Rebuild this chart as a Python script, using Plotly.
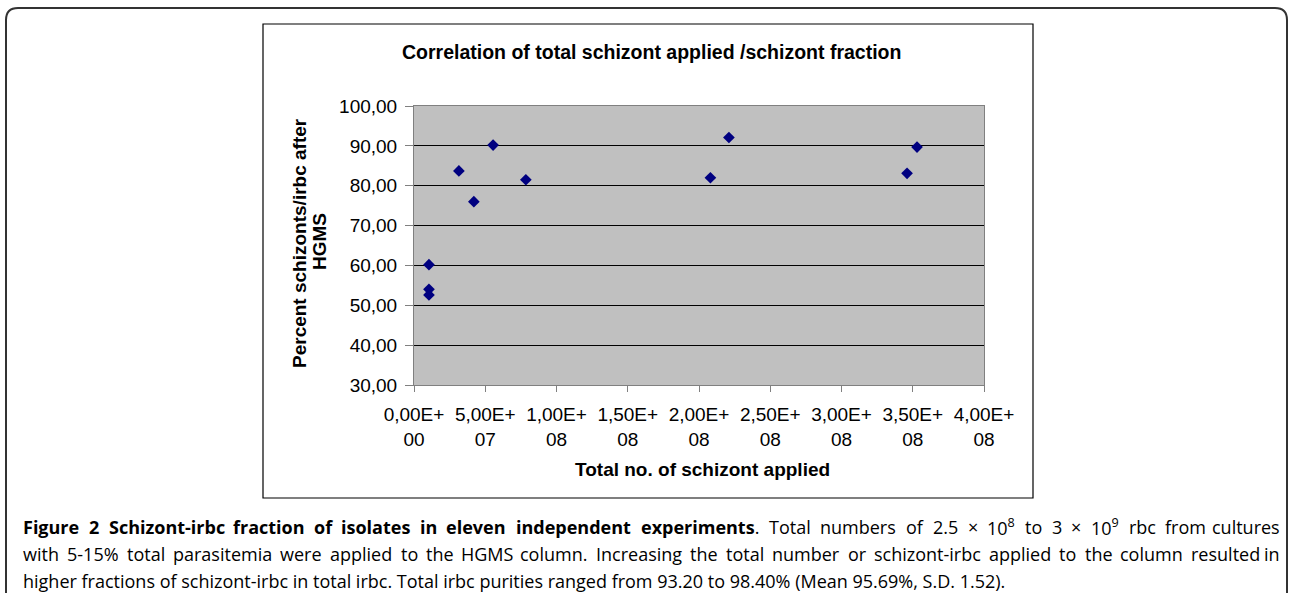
import re
import plotly.graph_objects as go

# Valores
schizont_aplicado = [1.05e7, 1.05e7, 1.05e7, 3.15e7, 4.2e7, 5.55e7, 7.85e7, 2.08e8, 2.21e8, 3.46e8, 3.53e8]
perc_schizont = [60.2, 54.0, 52.6, 83.7, 76.0, 90.2, 81.5, 82.0, 92.1, 83.1, 89.7]

x_ticks = [0, 5e7, 1e8, 1.5e8, 2e8, 2.5e8, 3e8, 3.5e8, 4e8]
x_labels = ["0,00E+<br>00", "5,00E+<br>07", "1,00E+<br>08", "1,50E+<br>08", "2,00E+<br>08",
            "2,50E+<br>08", "3,00E+<br>08", "3,50E+<br>08", "4,00E+<br>08"]
y_ticks = [30, 40, 50, 60, 70, 80, 90, 100]
y_labels = ["30,00", "40,00", "50,00", "60,00", "70,00", "80,00", "90,00", "100,00"]

# Texto da legenda da figura (linhas como no original)
legenda_negrito = "Figure 2 Schizont-irbc fraction of isolates in eleven independent experiments"
legenda_l1 = ". Total numbers of 2.5 × 10<sup>8</sup> to 3 × 10<sup>9</sup> rbc from cultures"
legenda_l2 = "with 5-15% total parasitemia were applied to the HGMS column. Increasing the total number or schizont-irbc applied to the column resulted in"
legenda_l3 = "higher fractions of schizont-irbc in total irbc. Total irbc purities ranged from 93.20 to 98.40% (Mean 95.69%, S.D. 1.52)."

W, H = 1289, 593
# Área do gráfico em pixels
PL, PR, PT, PB = 414, 984, 106, 385


def px(x):
    return (x - PL) / (PR - PL)


def py(y):
    return (PB - y) / (PB - PT)


FONTE = "Arial, Liberation Sans, sans-serif"
FONTE_LEGENDA = "Open Sans, sans-serif"
TAM_LEG = 18

# Larguras aproximadas (em) da Open Sans, para justificar o texto
LARG = {" ": .26, "a": .556, "b": .613, "c": .476, "d": .613, "e": .561, "f": .339, "g": .548,
        "h": .614, "i": .253, "l": .253, "m": .93, "n": .614, "o": .604, "p": .613, "r": .408,
        "s": .477, "t": .353, "u": .614, "v": .501, "w": .778, "x": .524, "y": .501, "z": .477,
        ".": .266, ",": .25, "-": .322, "%": .828, "(": .282, ")": .282, "×": .572,
        "T": .52, "H": .742, "G": .701, "M": .855, "S": .526, "D": .69, "I": .288}
LARG_B = {"F": .554, "S": .543, "a": .586, "b": .635, "c": .516, "d": .635, "e": .607, "f": .374,
          "g": .556, "h": .645, "i": .295, "l": .295, "m": .974, "n": .645, "o": .624, "p": .635,
          "r": .455, "s": .504, "t": .41, "u": .645, "v": .569, "x": .562, "z": .48, "-": .31}


def largura(palavra):
    total = 0.0
    # negrito
    for m in re.findall(r"<b>(.*?)</b>", palavra):
        total += sum(LARG_B.get(c, .572) for c in m)
    resto = re.sub(r"<b>.*?</b>", "", palavra)
    # sobrescrito (70%)
    for m in re.findall(r"<sup>(.*?)</sup>", resto):
        total += 0.7 * sum(LARG.get(c, .572) for c in m)
    resto = re.sub(r"<sup>.*?</sup>", "", resto)
    total += sum(LARG.get(c, .572) for c in resto)
    return total * TAM_LEG * 1.006


def justifica(palavras, y, esq=21, dir=1282):
    # Texto justificado: uma anotação por palavra, espaços iguais
    larguras = [largura(p) for p in palavras]
    espaco = (dir - esq - sum(larguras)) / (len(palavras) - 1)
    anots, pos = [], esq
    for i, (p, w) in enumerate(zip(palavras, larguras)):
        ultima = i == len(palavras) - 1
        anots.append(dict(text=p, x=px(dir if ultima else pos), y=py(y),
                          xanchor="right" if ultima else "left",
                          font=dict(family=FONTE_LEGENDA, size=TAM_LEG)))
        pos += w + espaco
    return anots


fig = go.Figure(
    go.Scatter(
        x=schizont_aplicado,
        y=perc_schizont,
        mode="markers",
        marker=dict(symbol="diamond", size=9, color="#000080"),
        showlegend=False,
    )
)

fig.update_xaxes(
    range=[0, 4e8],
    tickvals=x_ticks,
    ticktext=x_labels,
    ticks="outside",
    ticklen=6,
    tickcolor="#808080",
    showline=True,
    mirror=True,
    linecolor="#808080",
    linewidth=1,
    showgrid=False,
    zeroline=False,
    ticklabelstandoff=6,
    tickfont=dict(family=FONTE, size=19, color="#000"),
)
fig.update_yaxes(
    range=[30, 100],
    tickvals=y_ticks,
    ticktext=y_labels,
    ticks="outside",
    ticklen=8,
    tickcolor="#808080",
    showline=True,
    mirror=True,
    linecolor="#808080",
    linewidth=1,
    showgrid=True,
    gridcolor="#000000",
    gridwidth=1.2,
    zeroline=False,
    ticklabelstandoff=4,
    tickfont=dict(family=FONTE, size=19, color="#000"),
)

# Palavras da primeira linha: parte em negrito + resto
palavras_l1 = ["<b>%s</b>" % p for p in legenda_negrito.split(" ")]
resto_l1 = legenda_l1.split(" ")
palavras_l1[-1] += resto_l1[0]
palavras_l1 += resto_l1[1:]

anotacoes = [
    # Título do gráfico
    dict(text="<b>Correlation of total schizont applied /schizont fraction</b>",
         x=px(651), y=py(52), font=dict(family=FONTE, size=19.5)),
    # Título eixo X
    dict(text="<b>Total no. of schizont applied</b>", x=px(702), y=py(470),
         font=dict(family=FONTE, size=19)),
    # Título eixo Y (duas linhas)
    dict(text="<b>Percent schizonts/irbc after</b>", x=px(299), y=py(243),
         textangle=-90, font=dict(family=FONTE, size=19)),
    dict(text="<b>HGMS</b>", x=px(319), y=py(242),
         textangle=-90, font=dict(family=FONTE, size=19)),
    # Última linha da legenda (não justificada)
    dict(text=legenda_l3, x=px(21), y=py(581), xanchor="left",
         font=dict(family=FONTE_LEGENDA, size=TAM_LEG)),
]
anotacoes += justifica(palavras_l1, 527)
anotacoes += justifica(legenda_l2.split(" "), 554)

for a in anotacoes:
    a.setdefault("xanchor", "center")
    a.update(xref="paper", yref="paper", yanchor="middle", showarrow=False)
    a["font"].setdefault("color", "#000")

# Moldura externa arredondada e caixa do gráfico
r = 12
x0, y0, x1, y1 = px(6), py(8), px(1287), py(620)
rx, ry = r / (PR - PL), r / (PB - PT)
caminho = (f"M {x0},{y1} L {x0},{y0 - ry} Q {x0},{y0} {x0 + rx},{y0} "
           f"L {x1 - rx},{y0} Q {x1},{y0} {x1},{y0 - ry} L {x1},{y1}")
formas = [
    dict(type="path", path=caminho, xref="paper", yref="paper",
         line=dict(color="#333", width=2)),
    dict(type="rect", x0=px(263), x1=px(1033), y0=py(24), y1=py(498),
         xref="paper", yref="paper", line=dict(color="#000", width=1.2)),
]

fig.update_layout(
    width=W,
    height=H,
    margin=dict(l=PL, r=W - PR, t=PT, b=H - PB),
    plot_bgcolor="#C0C0C0",
    paper_bgcolor="#FFFFFF",
    annotations=anotacoes,
    shapes=formas,
)

# Remove a margem padrão do body para alinhar com a janela
fig.write_html("out.html", config={"displayModeBar": False},
               post_script="document.body.style.margin='0';")
